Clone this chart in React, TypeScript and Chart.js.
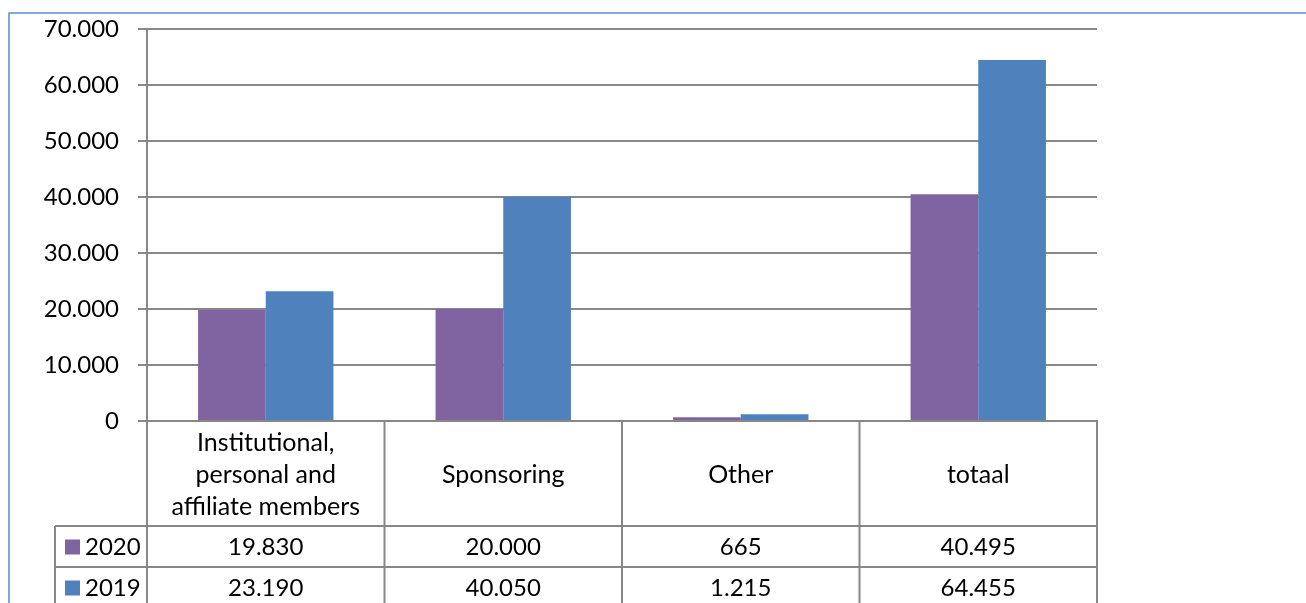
import React, { useEffect, useRef } from "react";
import { Chart, registerables } from "chart.js";

Chart.register(...registerables);

const categories: (string | string[])[] = [
  ["Institutional,", "personal and", "affiliate members"],
  "Sponsoring",
  "Other",
  "totaal",
];
const seriesNames = ["2020", "2019"];
const values2020 = [19830, 20000, 665, 40495];
const values2019 = [23190, 40050, 1215, 64455];
const yMin = 0;
const yMax = 70000;
const yStep = 10000;

const COLOR_2020 = "#8064A2";
const COLOR_2019 = "#4F81BD";
const GRID = "#878787";
const FONT_FAMILY = "Lato, 'Open Sans', sans-serif";
const FONT_SIZE = 24;

function fmt(n: number): string {
  return String(Math.round(n)).replace(/\B(?=(\d{3})+(?!\d))/g, ".");
}

const HEADER_H = 105;
const ROW_H = 41;
const LEGEND_LEFT = 55;

const tablePlugin = {
  id: "dataTable",
  beforeDraw(chart: any) {
    const ctx = chart.ctx;
    ctx.save();
    ctx.strokeStyle = "#5A8AD0";
    ctx.lineWidth = 1.5;
    ctx.beginPath();
    ctx.moveTo(9, chart.height);
    ctx.lineTo(9, 13);
    ctx.lineTo(chart.width, 13);
    ctx.stroke();
    ctx.restore();
  },
  afterDraw(chart: any) {
    const ctx = chart.ctx;
    const area = chart.chartArea;
    const x = chart.scales.x;
    const n = categories.length;
    const half = (x.getPixelForValue(1) - x.getPixelForValue(0)) / 2;
    const bounds: number[] = [];
    for (let i = 0; i < n; i++) bounds.push(x.getPixelForValue(i) - half);
    bounds.push(x.getPixelForValue(n - 1) + half);
    const top = area.bottom;
    const headerBottom = top + HEADER_H;
    const row1Bottom = headerBottom + ROW_H;
    const row2Bottom = row1Bottom + ROW_H;

    ctx.save();
    ctx.strokeStyle = GRID;
    ctx.lineWidth = 2;
    ctx.beginPath();
    bounds.forEach((b) => {
      ctx.moveTo(b, top);
      ctx.lineTo(b, chart.height);
    });
    ctx.moveTo(LEGEND_LEFT, headerBottom);
    ctx.lineTo(LEGEND_LEFT, chart.height);
    [headerBottom, row1Bottom, row2Bottom].forEach((yy) => {
      ctx.moveTo(LEGEND_LEFT, yy);
      ctx.lineTo(bounds[n], yy);
    });
    ctx.stroke();

    const rows = [
      { name: seriesNames[0], color: COLOR_2020, values: values2020 },
      { name: seriesNames[1], color: COLOR_2019, values: values2019 },
    ];
    ctx.font = `${FONT_SIZE}px ${FONT_FAMILY}`;
    ctx.fillStyle = "#000";
    ctx.textBaseline = "middle";
    rows.forEach((r, ri) => {
      const cy = headerBottom + ROW_H * ri + ROW_H / 2 + 1;
      ctx.fillStyle = r.color;
      ctx.fillRect(LEGEND_LEFT + 10, cy - 8, 15, 15);
      ctx.fillStyle = "#000";
      ctx.textAlign = "left";
      ctx.fillText(r.name, LEGEND_LEFT + 30, cy);
      ctx.textAlign = "center";
      r.values.forEach((v, i) => {
        ctx.fillText(fmt(v), x.getPixelForValue(i), cy);
      });
    });
    ctx.restore();
  },
};

export default function App() {
  const ref = useRef<HTMLCanvasElement | null>(null);
  useEffect(() => {
    if (!ref.current) return;
    const chart = new Chart(ref.current, {
      type: "bar",
      data: {
        labels: categories as any,
        datasets: [
          { label: seriesNames[0], data: values2020, backgroundColor: COLOR_2020, borderWidth: 0 },
          { label: seriesNames[1], data: values2019, backgroundColor: COLOR_2019, borderWidth: 0 },
        ],
      },
      options: {
        responsive: false,
        animation: false,
        devicePixelRatio: 1,
        datasets: { bar: { categoryPercentage: 0.57, barPercentage: 1.0 } },
        layout: { padding: { left: 0, top: 29, right: 209, bottom: 0 } },
        plugins: { legend: { display: false }, tooltip: { enabled: false } },
        scales: {
          x: {
            grid: { display: false, drawTicks: false },
            border: { display: true, color: GRID, width: 2 },
            ticks: {
              autoSkip: false,
              maxRotation: 0,
              minRotation: 0,
              padding: 22,
              color: "#000",
              crossAlign: "center",
              font: { family: FONT_FAMILY, size: 25, lineHeight: "32px" as any },
            },
            afterFit: (s: any) => {
              s.height = 182;
              s.paddingLeft = 0;
              s.paddingRight = 0;
            },
          },
          y: {
            min: yMin,
            max: yMax,
            grid: { color: GRID, lineWidth: 2, tickLength: 9 },
            border: { display: true, color: GRID, width: 2 },
            ticks: {
              stepSize: yStep,
              padding: 19,
              color: "#000",
              font: { family: FONT_FAMILY, size: FONT_SIZE },
              callback: (v: any) => fmt(Number(v)),
            },
            afterFit: (s: any) => {
              s.width = 147;
              s.paddingTop = 0;
              s.paddingBottom = 0;
            },
          },
        },
      },
      plugins: [tablePlugin],
    });
    return () => chart.destroy();
  }, []);
  return (
    <div style={{ position: "absolute", left: 0, top: 0, width: 1306, height: 603, background: "#fff" }}>
      <canvas ref={ref} width={1306} height={603} style={{ display: "block" }} />
    </div>
  );
}
